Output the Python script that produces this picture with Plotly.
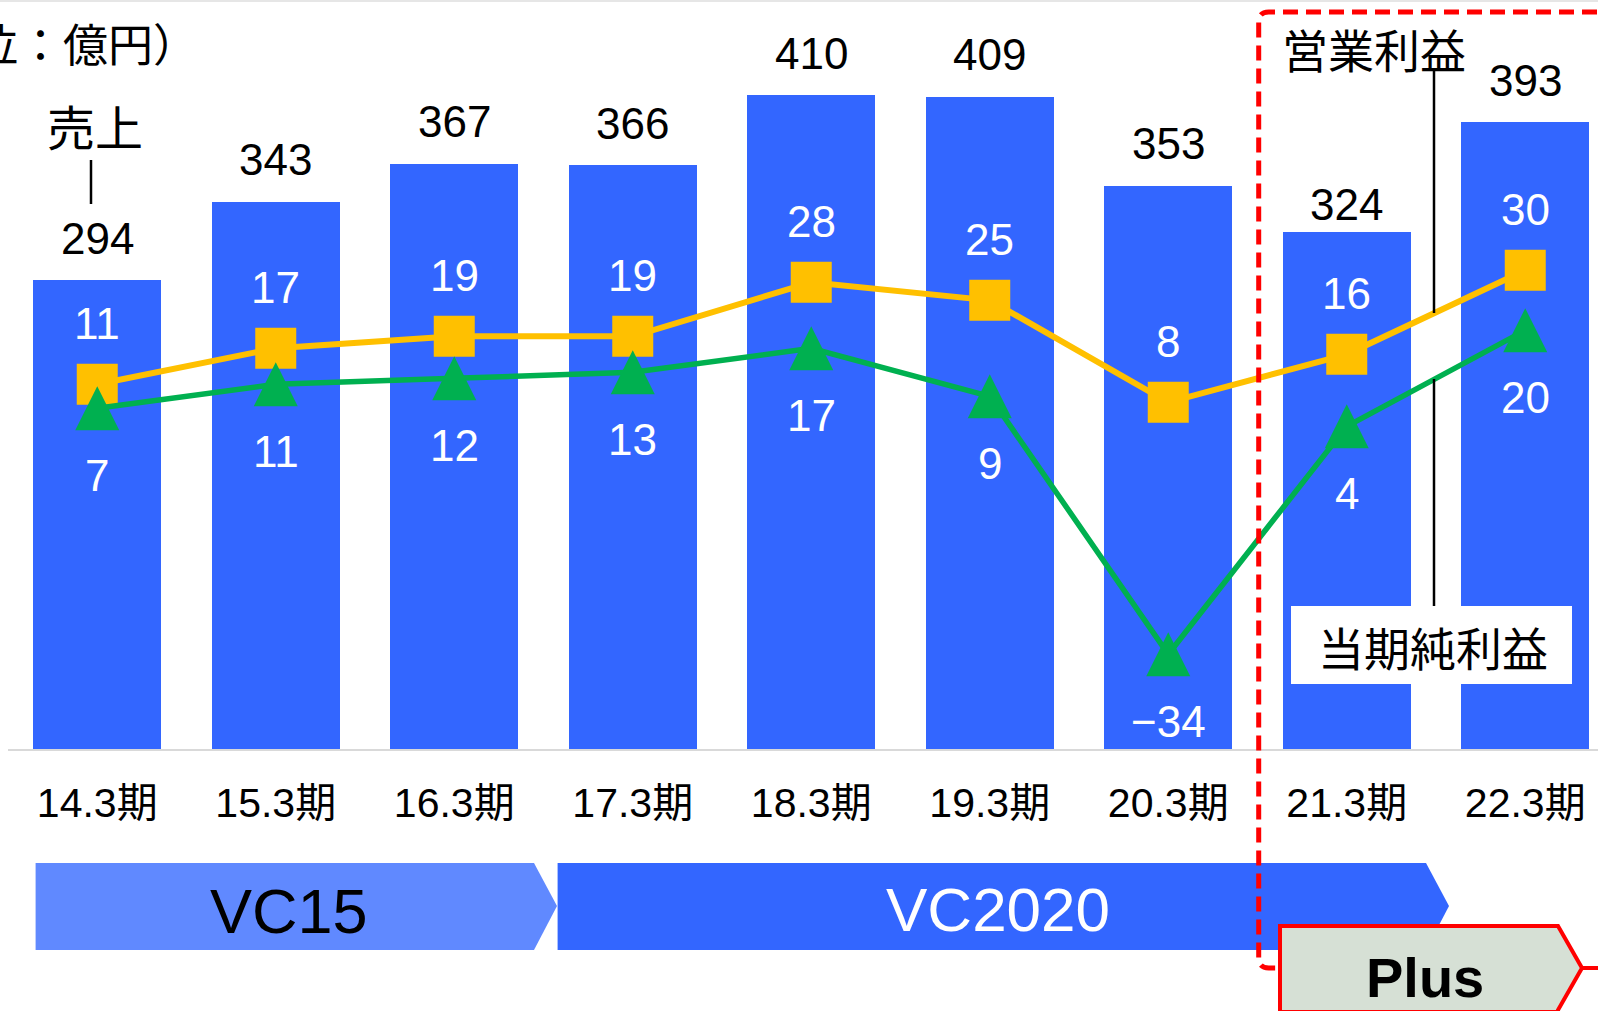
import plotly.graph_objects as go

# ---------------- data ----------------
periods = ["14.3期", "15.3期", "16.3期", "17.3期", "18.3期", "19.3期", "20.3期", "21.3期", "22.3期"]
sales = [294, 343, 367, 366, 410, 409, 353, 324, 393]
operating_profit = [11, 17, 19, 19, 28, 25, 8, 16, 30]
net_profit = [7, 11, 12, 13, 17, 9, -34, 4, 20]

# ---------------- styling / layout constants ----------------
W_FIG, H_FIG = 1598, 1011
L, T = 8, 0
PW, PH = W_FIG - L, 749          # plot area (pixels)
CAT_PX = 178.5                   # pixels per category
Y1_PX = 1.595                    # pixels per unit (sales)
Y2_PX = 6.0                      # pixels per unit (profits)
Y2_ZERO = 450.3                  # pixel row of profit zero
TRI_SHIFT = 22 / Y2_PX           # arrow tip sits above centre

BLUE = "#3366FF"
LIGHT_BLUE = "#6089FF"
ORANGE = "#FFC000"
GREEN = "#00B050"
RED = "#FF0000"
NUM_FONT = "Liberation Sans Narrow, Liberation Sans, Noto Sans CJK JP"
JP_FONT = "Noto Sans CJK JP"
LAT_FONT = "Liberation Sans, Arial"

x_idx = list(range(len(periods)))


def px(xp):
    return (xp - L) / PW


def py(yp):
    return (T + PH - yp) / PH


y1_range = [0, PH / Y1_PX]
y2_lo = -(T + PH - Y2_ZERO) / Y2_PX
y2_hi = (Y2_ZERO - T) / Y2_PX
y2_range = [y2_lo, y2_hi]
y3_range = [y2_lo - TRI_SHIFT, y2_hi - TRI_SHIFT]

fig = go.Figure()

fig.add_trace(go.Bar(
    x=x_idx, y=sales, width=128 / CAT_PX, marker=dict(color=BLUE, line=dict(width=0)),
    name="売上", hoverinfo="skip",
))
fig.add_trace(go.Scatter(
    x=x_idx, y=operating_profit, yaxis="y2", mode="lines+markers", name="営業利益",
    line=dict(color=ORANGE, width=6),
    marker=dict(symbol="square", size=41, color=ORANGE, line=dict(width=0)),
    hoverinfo="skip",
))
fig.add_trace(go.Scatter(
    x=x_idx, y=net_profit, yaxis="y2", mode="lines", name="当期純利益",
    line=dict(color=GREEN, width=5.5), hoverinfo="skip",
))
fig.add_trace(go.Scatter(
    x=x_idx, y=net_profit, yaxis="y3", mode="markers", name="当期純利益",
    marker=dict(symbol="arrow-up", size=44, color=GREEN, line=dict(width=0)),
    hoverinfo="skip", showlegend=False,
))

annotations = []
# sales labels above bars
sales_gap = [42] * len(sales)
sales_gap[7] = 28
for i, v in enumerate(sales):
    annotations.append(dict(
        x=i, y=v, xref="x", yref="y", text=str(v), showarrow=False,
        yanchor="middle", yshift=sales_gap[i],
        font=dict(family=NUM_FONT, size=44, color="black"),
    ))
# operating profit labels (above squares)
for i, v in enumerate(operating_profit):
    annotations.append(dict(
        x=i, y=v, xref="x", yref="y2", text=str(v), showarrow=False,
        yanchor="middle", yshift=61,
        font=dict(family=NUM_FONT, size=44, color="white"),
    ))
# net profit labels (below triangles)
for i, v in enumerate(net_profit):
    annotations.append(dict(
        x=i, y=v, xref="x", yref="y2", text=str(v).replace("-", "−"), showarrow=False,
        yanchor="middle", yshift=-67.5,
        font=dict(family=NUM_FONT, size=44, color="white"),
    ))

# text labels
def txt(text, xp, yp, size, family, color="black", anchor="center", bold=False):
    annotations.append(dict(
        x=px(xp), y=py(yp), xref="paper", yref="paper", text=("<b>%s</b>" % text) if bold else text,
        showarrow=False, xanchor=anchor, yanchor="middle",
        font=dict(family=family, size=size, color=color),
    ))

txt("（単位：億円）", 200, 42, 45, JP_FONT, anchor="right")
txt("売上", 95, 125, 48, JP_FONT)
txt("営業利益", 1374, 48, 46, JP_FONT)

shapes = []
# top border line
shapes.append(dict(type="line", xref="paper", yref="paper", x0=px(0), x1=px(W_FIG), y0=py(1), y1=py(1),
                   line=dict(color="#E6E6E6", width=2), layer="below"))
# callout lines
for (xx, ya, yb) in [(91, 160, 204), (1434, 71, 313), (1434, 379, 606)]:
    shapes.append(dict(type="line", xref="paper", yref="paper", x0=px(xx), x1=px(xx), y0=py(ya), y1=py(yb),
                       line=dict(color="black", width=2.5), layer="above"))
# 当期純利益 box
shapes.append(dict(type="rect", xref="paper", yref="paper", x0=px(1291), x1=px(1572), y0=py(606), y1=py(684),
                   fillcolor="white", line=dict(width=0), layer="above"))
txt("当期純利益", 1433, 646, 46, JP_FONT)


def poly(points):
    d = "M " + " L ".join("%f,%f" % (px(a), py(b)) for a, b in points) + " Z"
    return d

# VC15 / VC2020 arrows
shapes.append(dict(type="path", xref="paper", yref="paper",
                   path=poly([(35.6, 863), (534, 863), (557, 906), (534, 950), (35.6, 950)]),
                   fillcolor=LIGHT_BLUE, line=dict(width=0), layer="above"))
shapes.append(dict(type="path", xref="paper", yref="paper",
                   path=poly([(557.6, 863), (1426, 863), (1449, 906), (1426, 950), (557.6, 950)]),
                   fillcolor=BLUE, line=dict(width=0), layer="above"))
txt("VC15", 289, 911, 63, LAT_FONT)
txt("VC2020", 998, 910, 62, LAT_FONT, color="white")

# red dashed frame
r = 10
frame = "M %f,%f L %f,%f Q %f,%f %f,%f L %f,%f Q %f,%f %f,%f L %f,%f" % (
    px(1620), py(12), px(1258.7 + r), py(12), px(1258.7), py(12), px(1258.7), py(12 + r),
    px(1258.7), py(968 - r), px(1258.7), py(968), px(1258.7 + r), py(968), px(1282), py(968))
shapes.append(dict(type="path", xref="paper", yref="paper", path=frame,
                   line=dict(color=RED, width=5, dash="15px,8px"), layer="above"))
# Plus box
shapes.append(dict(type="path", xref="paper", yref="paper",
                   path=poly([(1280, 1012), (1280, 926), (1558, 926), (1582, 968), (1558, 1010), (1558, 1012)]),
                   fillcolor="#D6E0D5", line=dict(color=RED, width=4), layer="above"))
shapes.append(dict(type="line", xref="paper", yref="paper", x0=px(1582), x1=px(1620), y0=py(968), y1=py(968),
                   line=dict(color=RED, width=4), layer="above"))
txt("Plus", 1425, 977, 56, LAT_FONT, bold=True)

fig.update_layout(
    width=W_FIG, height=H_FIG,
    margin=dict(l=L, r=W_FIG - L - PW, t=T, b=H_FIG - T - PH, pad=0),
    paper_bgcolor="white", plot_bgcolor="white",
    showlegend=False, bargap=0,
    xaxis=dict(range=[-0.5, -0.5 + PW / CAT_PX], tickvals=x_idx, ticktext=periods,
               showgrid=False, zeroline=False, showline=True, linecolor="#D9D9D9", linewidth=2,
               ticks="", ticklabelstandoff=17,
               tickfont=dict(family=NUM_FONT, size=41, color="black"), fixedrange=True),
    yaxis=dict(range=y1_range, visible=False, showgrid=False, zeroline=False, fixedrange=True),
    yaxis2=dict(range=y2_range, overlaying="y", visible=False, showgrid=False, zeroline=False),
    yaxis3=dict(range=y3_range, overlaying="y", visible=False, showgrid=False, zeroline=False),
    annotations=annotations, shapes=shapes,
)

fig.write_html("out.html", config={"displayModeBar": False},
               post_script="document.body.style.margin='0';")
